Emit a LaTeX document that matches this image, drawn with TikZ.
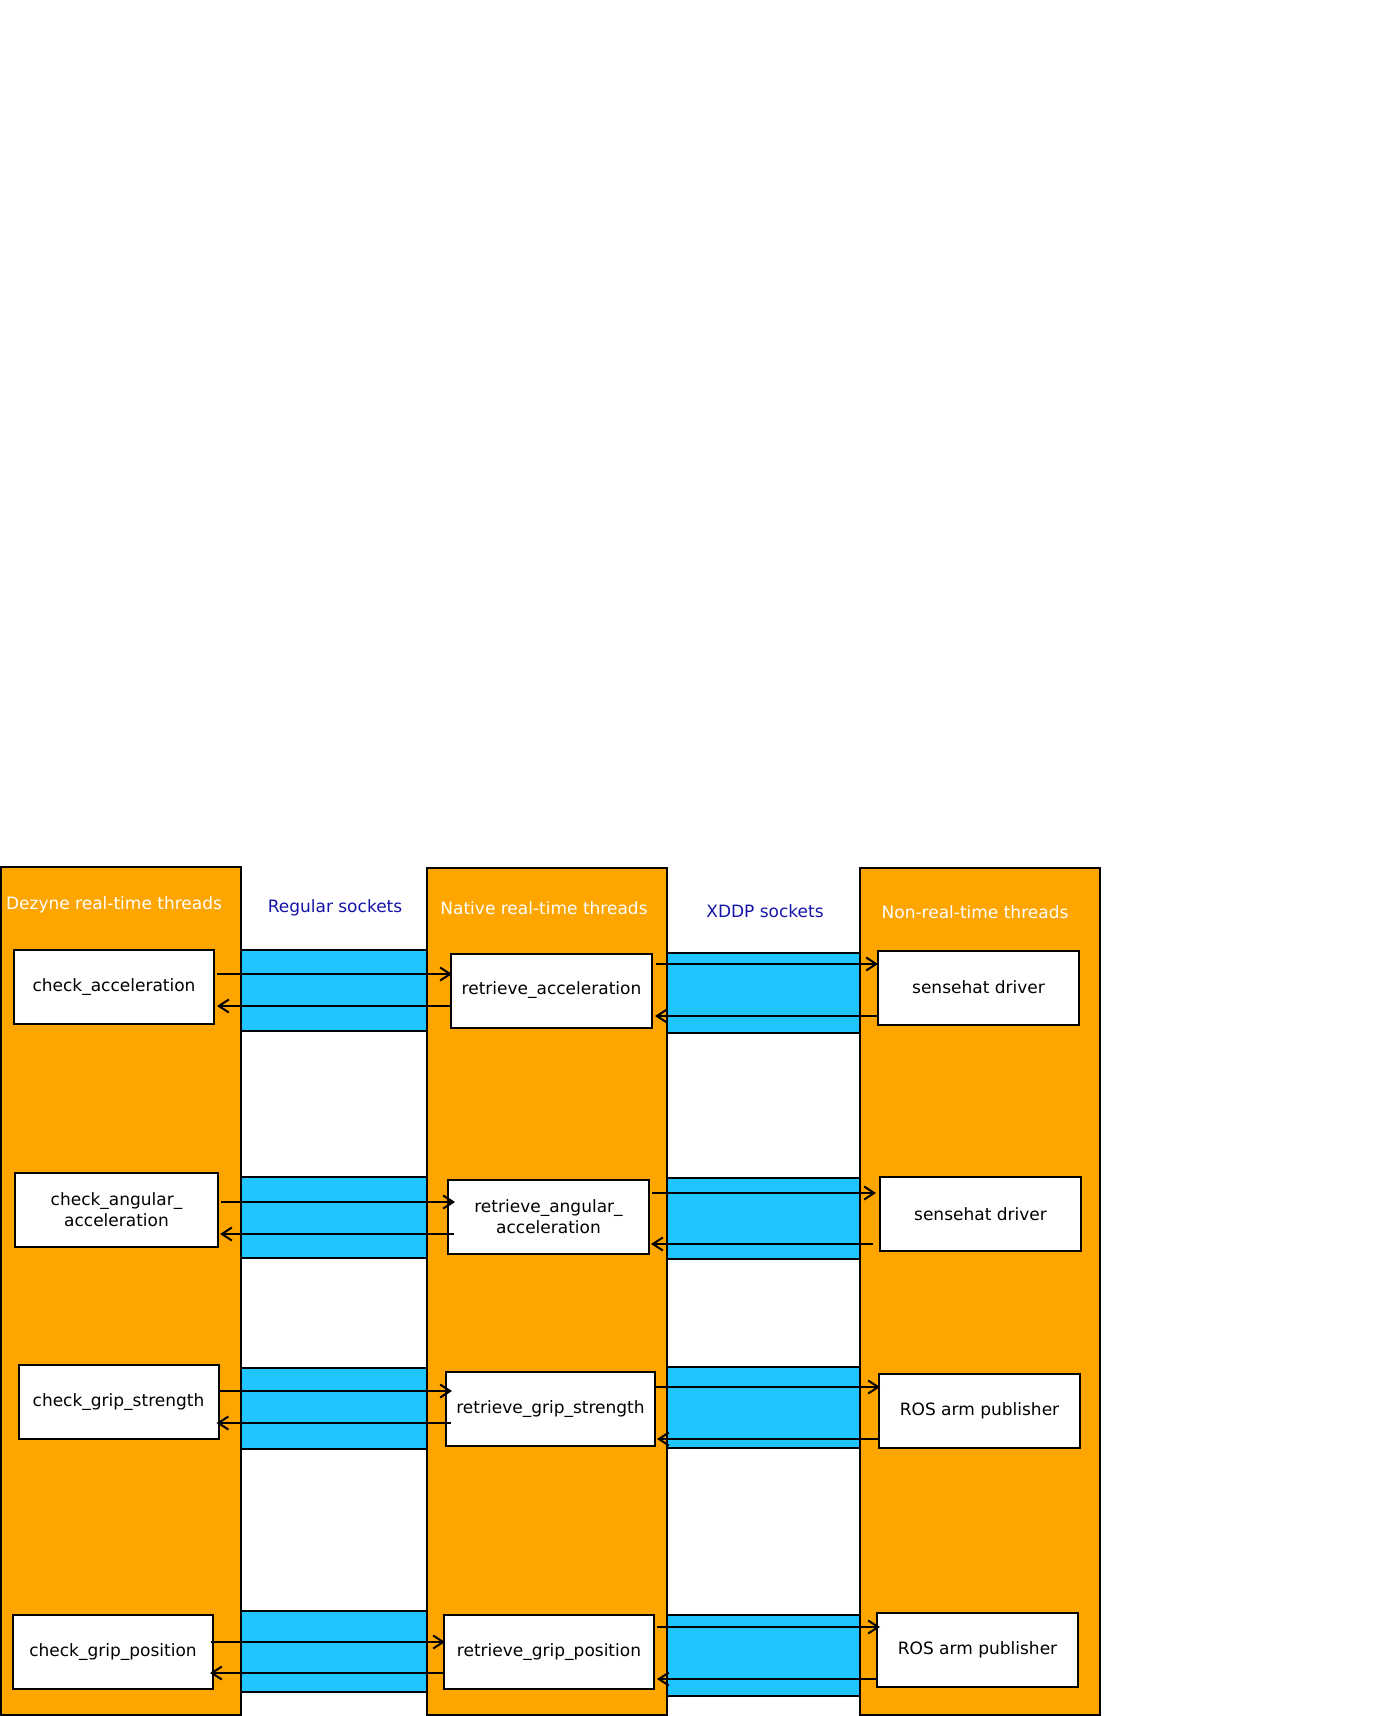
\documentclass[tikz,border=0pt]{standalone}
\usepackage{fontspec}
\setmainfont{DejaVu Sans}
\usetikzlibrary{arrows.meta}
\definecolor{throrange}{RGB}{255,165,0}
\definecolor{sockblue}{RGB}{32,196,255}
\definecolor{lblblue}{RGB}{20,20,170}
\begin{document}
\begin{tikzpicture}[x=0.5pt,y=-0.5pt,
  column/.style={draw=black, fill=throrange, line width=1pt},
  band/.style={draw=black, fill=sockblue, line width=1pt},
  txt/.style={font=\fontsize{8.5}{10.5}\selectfont},
  box/.style={txt, draw=black, fill=white, line width=1pt, inner sep=0pt, align=center, minimum height=37pt},
  coltitle/.style={txt, text=white, inner sep=0pt},
  socklbl/.style={txt, text=lblblue, inner sep=0pt},
  arr/.style={-{Straight Barb[length=5pt,width=6.5pt]}, line width=1pt}]
\useasboundingbox (0,0) rectangle (1385,1716);
% socket bands
\draw[band] (241,950) rectangle (427,1031);
\draw[band] (241,1177) rectangle (427,1258);
\draw[band] (241,1368) rectangle (427,1449);
\draw[band] (241,1611) rectangle (427,1692);
\draw[band] (667,953) rectangle (860,1033);
\draw[band] (667,1178) rectangle (860,1259);
\draw[band] (667,1367) rectangle (860,1448);
\draw[band] (667,1615) rectangle (860,1696);
% thread columns
\draw[column] (1,867) rectangle (241,1715);
\draw[column] (427,868) rectangle (667,1715);
\draw[column] (860,868) rectangle (1100,1715);
% titles
\node[coltitle] (tD) at (114,905) {Dezyne real-time threads};
\node[socklbl] (tR) at (335,908) {Regular sockets};
\node[coltitle] (tN) at (544,908) {Native real-time threads};
\node[socklbl] (tX) at (765,911) {XDDP sockets};
\node[coltitle] (tP) at (975,912) {Non-real-time threads};
% boxes column 1
\node[box, minimum width=100pt] (c1r1) at (114,987) {check\_acceleration};
\node[box, minimum width=101.5pt] (c1r2) at (116.5,1209.5) {check\_angular\_\\acceleration};
\node[box, minimum width=100pt] (c1r3) at (118.5,1402) {check\_grip\_strength};
\node[box, minimum width=100pt] (c1r4) at (113,1652) {check\_grip\_position};
% boxes column 2
\node[box, minimum width=100.5pt] (c2r1) at (551.5,990.5) {retrieve\_acceleration};
\node[box, minimum width=100.5pt] (c2r2) at (548.5,1216.5) {retrieve\_angular\_\\acceleration};
\node[box, minimum width=104.5pt] (c2r3) at (550.5,1409) {retrieve\_grip\_strength};
\node[box, minimum width=105pt] (c2r4) at (549,1652) {retrieve\_grip\_position};
% boxes column 3
\node[box, minimum width=100.5pt] (c3r1) at (978.5,987.5) {sensehat driver};
\node[box, minimum width=100.5pt] (c3r2) at (980.5,1214) {sensehat driver};
\node[box, minimum width=100.5pt] (c3r3) at (979.5,1411) {ROS arm publisher};
\node[box, minimum width=100.5pt] (c3r4) at (977.5,1649.5) {ROS arm publisher};
% arrows row 1
\draw[arr] ([xshift=1pt]c1r1.east |- 0,974) -- ([xshift=1pt]c2r1.west |- 0,974);
\draw[arr] ([xshift=1pt]c2r1.west |- 0,1006) -- ([xshift=1pt]c1r1.east |- 0,1006);
\draw[arr] ([xshift=1.5pt]c2r1.east |- 0,964) -- ([xshift=0.5pt]c3r1.west |- 0,964);
\draw[arr] (c3r1.west |- 0,1016) -- ([xshift=1pt]c2r1.east |- 0,1016);
% arrows row 2
\draw[arr] ([xshift=1pt]c1r2.east |- 0,1202) -- ([xshift=4pt]c2r2.west |- 0,1202);
\draw[arr] ([xshift=3.5pt]c2r2.west |- 0,1234) -- ([xshift=0.5pt]c1r2.east |- 0,1234);
\draw[arr] ([xshift=1pt]c2r2.east |- 0,1193) -- ([xshift=-1.5pt]c3r2.west |- 0,1193);
\draw[arr] ([xshift=-3pt]c3r2.west |- 0,1244) -- ([xshift=0.5pt]c2r2.east |- 0,1244);
% arrows row 3
\draw[arr] ([xshift=-1pt]c1r3.east |- 0,1391) -- ([xshift=3.5pt]c2r3.west |- 0,1391);
\draw[arr] ([xshift=3pt]c2r3.west |- 0,1423) -- ([xshift=-1.5pt]c1r3.east |- 0,1423);
\draw[arr] (c2r3.east |- 0,1387) -- ([xshift=1pt]c3r3.west |- 0,1387);
\draw[arr] (c3r3.west |- 0,1439) -- ([xshift=0.5pt]c2r3.east |- 0,1439);
% arrows row 4
\draw[arr] ([xshift=-1.5pt]c1r4.east |- 0,1642) -- ([xshift=1pt]c2r4.west |- 0,1642);
\draw[arr] ([xshift=0.5pt]c2r4.west |- 0,1673) -- ([xshift=-2pt]c1r4.east |- 0,1673);
\draw[arr] ([xshift=1pt]c2r4.east |- 0,1627) -- ([xshift=2pt]c3r4.west |- 0,1627);
\draw[arr] ([xshift=1pt]c3r4.west |- 0,1679) -- ([xshift=1pt]c2r4.east |- 0,1679);
\end{tikzpicture}
\end{document}
